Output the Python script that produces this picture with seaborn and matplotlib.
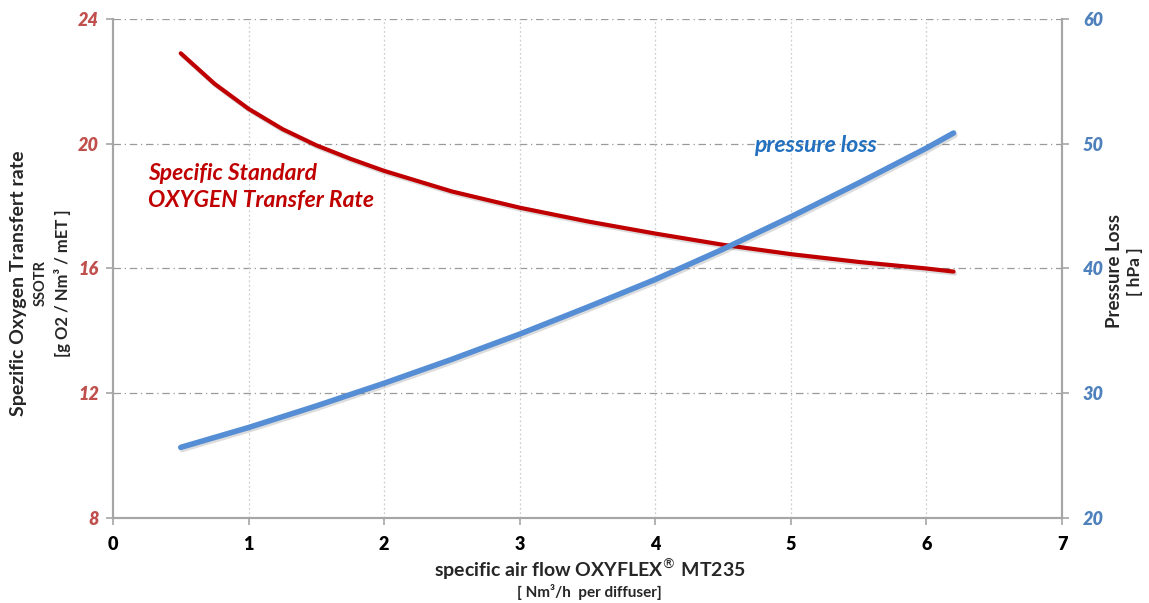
import numpy as np
import pandas as pd
import seaborn as sns
import matplotlib
matplotlib.use("Agg")
import matplotlib.pyplot as plt
import matplotlib.patheffects as pe

# values
red_flow = [0.5, 0.75, 1.0, 1.25, 1.5, 1.75, 2.0, 2.5, 3.0, 3.5, 4.0, 4.5, 5.0, 5.5, 6.0, 6.2]
ssotr = [22.9, 21.92, 21.12, 20.47, 19.95, 19.52, 19.13, 18.47, 17.95, 17.51, 17.12, 16.76, 16.46, 16.21, 16.0, 15.9]

blue_flow = [0.5, 1.0, 1.5, 2.0, 2.5, 3.0, 3.5, 4.0, 4.5, 5.0, 5.5, 6.0, 6.2]
pressure_loss = [25.66, 27.25, 28.98, 30.8, 32.72, 34.74, 36.9, 39.12, 41.55, 44.14, 46.85, 49.65, 50.86]

x_ticks = [0, 1, 2, 3, 4, 5, 6, 7]
left_ticks = [8, 12, 16, 20, 24]
right_ticks = [20, 30, 40, 50, 60]

df_red = pd.DataFrame({'flow': red_flow, 'ssotr': ssotr})
df_blue = pd.DataFrame({'flow': blue_flow, 'pressure': pressure_loss})

sns.set_theme(style='white')
plt.rcParams['font.family'] = ['Lato', 'DejaVu Sans']

fig = plt.figure(figsize=(11.49, 6.03), dpi=100)
ax = fig.add_axes([0.0983, 0.141, 0.826, 0.8275])
ax2 = ax.twinx()

red_line = '#c00000'
blue_line = '#558ed5'
red_tick = '#c0504d'
blue_tick = '#4f81bd'
spine_col = '#a6a6a6'

shadow = [pe.SimpleLineShadow(offset=(1, -1.5), alpha=0.15), pe.Normal()]

sns.lineplot(data=df_red, x='flow', y='ssotr', ax=ax, color=red_line, linewidth=3.0,
             solid_capstyle='round', solid_joinstyle='round', path_effects=shadow)
sns.lineplot(data=df_blue, x='flow', y='pressure', ax=ax2, color=blue_line, linewidth=4,
             solid_capstyle='round', solid_joinstyle='round', path_effects=shadow)

ax.set_xlim(0, 7)
ax.set_ylim(8, 24)
ax2.set_ylim(20, 60)
ax.set_xticks(x_ticks)
ax.set_yticks(left_ticks)
ax2.set_yticks(right_ticks)

# grid: dash-dot horizontal, dotted vertical
for v in left_ticks[1:]:
    ax.axhline(v, color='#9a9a9a', linestyle=(0, (6, 3, 1, 3)), linewidth=0.9, zorder=0)
for v in x_ticks[1:-1]:
    ax.axvline(v, color='#cfcfcf', linestyle=(0, (1.5, 2)), linewidth=0.9, zorder=0)

for a in (ax, ax2):
    a.spines['top'].set_visible(False)
    for s in ('left', 'right', 'bottom'):
        a.spines[s].set_color(spine_col)
        a.spines[s].set_linewidth(1.5)
    a.set_xlabel('')
    a.set_ylabel('')

ax.tick_params(axis='x', colors=spine_col, labelcolor='black', length=5, width=1.2,
               direction='out', bottom=True, pad=8)
ax.tick_params(axis='y', colors=spine_col, labelcolor=red_tick, length=5, width=1.2,
               direction='out', left=True, pad=5)
ax2.tick_params(axis='y', colors=spine_col, labelcolor=blue_tick, length=5, width=1.2,
                direction='out', right=True, pad=10)

for lab in ax.get_xticklabels():
    lab.set_fontweight('heavy')
    lab.set_fontsize(13)
for lab in ax.get_yticklabels() + ax2.get_yticklabels():
    lab.set_fontweight('heavy')
    lab.set_fontstyle('italic')
    lab.set_fontsize(13)

# series labels
ax.text(0.26, 18.62, 'Specific Standard\nOXYGEN Transfer Rate', color=red_line,
        fontsize=16.5, fontweight='bold', fontstyle='italic', linespacing=1.35,
        va='center', ha='left')
ax2.text(4.73, 49.85, 'pressure loss', color='#2270c0', fontsize=16.5,
         fontweight='bold', fontstyle='italic', va='center', ha='left')

# axis titles
fig.text(0.016, 0.53, 'Spezific Oxygen Transfert rate', rotation=90, fontsize=14,
         fontweight='bold', ha='center', va='center')
fig.text(0.035, 0.53, 'SSOTR', rotation=90, fontsize=10.5, fontweight='bold',
         ha='center', va='center')
fig.text(0.054, 0.53, '[g O2 / Nm³ / mET ]', rotation=90, fontsize=12,
         fontweight='bold', ha='center', va='center')

fig.text(0.970, 0.55, 'Pressure Loss', rotation=90, fontsize=13.5,
         fontweight='bold', ha='center', va='center')
fig.text(0.988, 0.55, '[ hPa ]', rotation=90, fontsize=12.5,
         fontweight='bold', ha='center', va='center')

fig.text(0.513, 0.055, 'specific air flow OXYFLEX$^{®}$ MT235', fontsize=14,
         fontweight='bold', ha='center', va='center')
fig.text(0.513, 0.018, '[ Nm³/h  per diffuser]', fontsize=11, fontweight='bold',
         ha='center', va='center')

fig.savefig('out.png', dpi=100, facecolor='white')
